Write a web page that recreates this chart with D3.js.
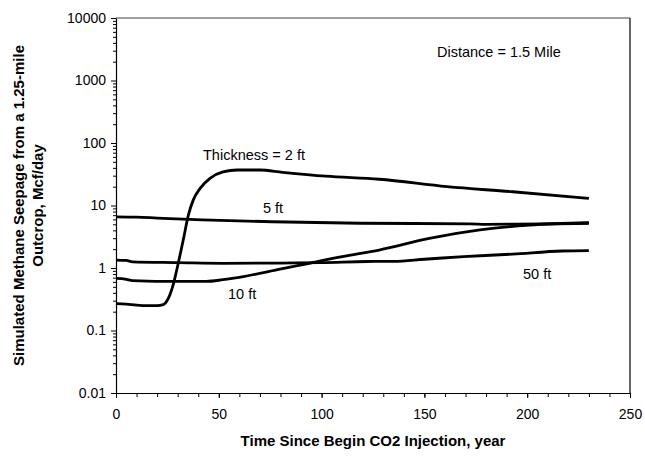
<!DOCTYPE html>
<html>
<head>
<meta charset="utf-8">
<script src="https://cdn.jsdelivr.net/npm/d3@7"></script>
<style>
   body { margin: 0; background: #fff; }
   text { font-family: Arial, "Liberation Sans", sans-serif; fill: #000; }
</style>
</head>
<body>
<svg id="chart"></svg>
<script>
// thickness curves, time in years vs seepage in Mcf/day
var t2ft  = [0, 5, 10, 15, 20, 23, 25.5, 28, 30.3, 32.7, 35.2, 37.6, 40.9, 45.7, 52, 59, 70, 81, 102, 128, 161, 193, 230];
var v2ft  = [0.27, 0.265, 0.255, 0.25, 0.25, 0.26, 0.33, 0.57, 1.2, 2.8, 7.0, 12.3, 18.8, 27.2, 34.5, 37, 37, 34, 29.5, 26.3, 20, 16.6, 13];
var t5ft  = [0, 10, 20, 42, 76, 119, 172, 180, 230];
var v5ft  = [6.6, 6.5, 6.3, 5.9, 5.5, 5.2, 5.1, 5.0, 5.2];
var t10ft = [0, 5, 8, 30, 44, 52, 62, 78, 94, 110, 128, 153, 177, 201, 230];
var v10ft = [0.68, 0.66, 0.63, 0.61, 0.61, 0.65, 0.73, 0.93, 1.19, 1.52, 1.94, 3.0, 4.06, 4.87, 5.3];
var t50ft = [0, 5, 8, 30, 52, 80, 100, 122, 135, 150, 169, 193, 217, 230];
var v50ft = [1.34, 1.32, 1.25, 1.22, 1.19, 1.2, 1.22, 1.27, 1.28, 1.38, 1.52, 1.67, 1.87, 1.9];

var xTicks = [0, 50, 100, 150, 200, 250];
var yTicks = [0.01, 0.1, 1, 10, 100, 1000, 10000];
var yTickLabels = ['0.01', '0.1', '1', '10', '100', '1000', '10000'];

function drawChart(svgname) {
   var width = 645,
       height = 460;
   var left = 116, right = 630, top = 18, bottom = 393;

   var svg = d3.select('#' + svgname)
      .attr('width', width)
      .attr('height', height);

   var x = d3.scaleLinear().domain([0, 250]).range([left, right]);
   var y = d3.scaleLog().domain([0.01, 10000]).range([bottom, top]);

   // plot frame: top grey, right black
   svg.append('line')
      .attr('x1', left).attr('x2', right).attr('y1', top).attr('y2', top)
      .attr('stroke', '#808080').attr('stroke-width', 1.5);
   svg.append('line')
      .attr('x1', right).attr('x2', right).attr('y1', top).attr('y2', bottom)
      .attr('stroke', '#000').attr('stroke-width', 1.2);

   // x axis
   var xMinor = d3.range(0, 251, 10);
   svg.append('g')
      .attr('transform', 'translate(0,' + bottom + ')')
      .call(d3.axisBottom(x).tickValues(xMinor).tickSize(4).tickFormat(''))
      .call(function(g) { g.select('.domain').remove(); });
   svg.append('g')
      .attr('transform', 'translate(0,' + bottom + ')')
      .call(d3.axisBottom(x).tickValues(xTicks).tickSize(5).tickSizeOuter(0).tickPadding(11))
      .call(function(g) {
         g.selectAll('text').style('font-size', '14px').attr('font-family', null);
         g.select('.domain').attr('stroke-width', 1.2);
      });

   // y axis, log minor ticks
   var yMinor = [];
   for (var e = -2; e < 4; e++) {
      for (var m = 2; m < 10; m++) yMinor.push(m * Math.pow(10, e));
   }
   svg.append('g')
      .attr('transform', 'translate(' + left + ',0)')
      .call(d3.axisLeft(y).tickValues(yMinor).tickSize(3).tickFormat(''))
      .call(function(g) { g.select('.domain').remove(); });
   svg.append('g')
      .attr('transform', 'translate(' + left + ',0)')
      .call(d3.axisLeft(y).tickValues(yTicks).tickSize(5).tickSizeOuter(0).tickPadding(5)
         .tickFormat(function(d, i) { return yTickLabels[i]; }))
      .call(function(g) {
         g.selectAll('text').style('font-size', '14px').attr('font-family', null);
         g.select('.domain').attr('stroke-width', 1.2);
      });

   // curves
   var line = d3.line()
      .x(function(d) { return x(d[0]); })
      .y(function(d) { return y(d[1]); })
      .curve(d3.curveMonotoneX);

   var series = [[t2ft, v2ft], [t5ft, v5ft], [t10ft, v10ft], [t50ft, v50ft]];
   series.forEach(function(s) {
      svg.append('path')
         .datum(d3.zip(s[0], s[1]))
         .attr('d', line)
         .attr('fill', 'none')
         .attr('stroke', '#000')
         .attr('stroke-width', 2.8)
         .attr('stroke-linejoin', 'round');
   });

   // curve labels
   var labels = [
      ['Thickness = 2 ft', 203, 160],
      ['5 ft', 263, 213],
      ['10 ft', 228, 299],
      ['50 ft', 523, 279],
      ['Distance = 1.5 Mile', 437, 57]
   ];
   svg.selectAll('.lbl')
      .data(labels)
      .enter().append('text')
      .attr('class', 'lbl')
      .attr('x', function(d) { return d[1]; })
      .attr('y', function(d) { return d[2]; })
      .style('font-size', '14.5px')
      .text(function(d) { return d[0]; });

   // axis titles
   svg.append('text')
      .attr('x', (left + right) / 2)
      .attr('y', 446)
      .attr('text-anchor', 'middle')
      .style('font-weight', 'bold')
      .style('font-size', '15px')
      .text('Time Since Begin CO2 Injection, year');

   var yt = svg.append('text')
      .attr('transform', 'translate(24,' + ((top + bottom) / 2) + ') rotate(-90)')
      .attr('text-anchor', 'middle')
      .style('font-weight', 'bold')
      .style('font-size', '15px');
   yt.append('tspan').attr('x', 0).attr('dy', 0).text('Simulated Methane Seepage from a 1.25-mile');
   yt.append('tspan').attr('x', 0).attr('dy', 19).text('Outcrop, Mcf/day');
}

drawChart('chart');
</script>
</body>
</html>
